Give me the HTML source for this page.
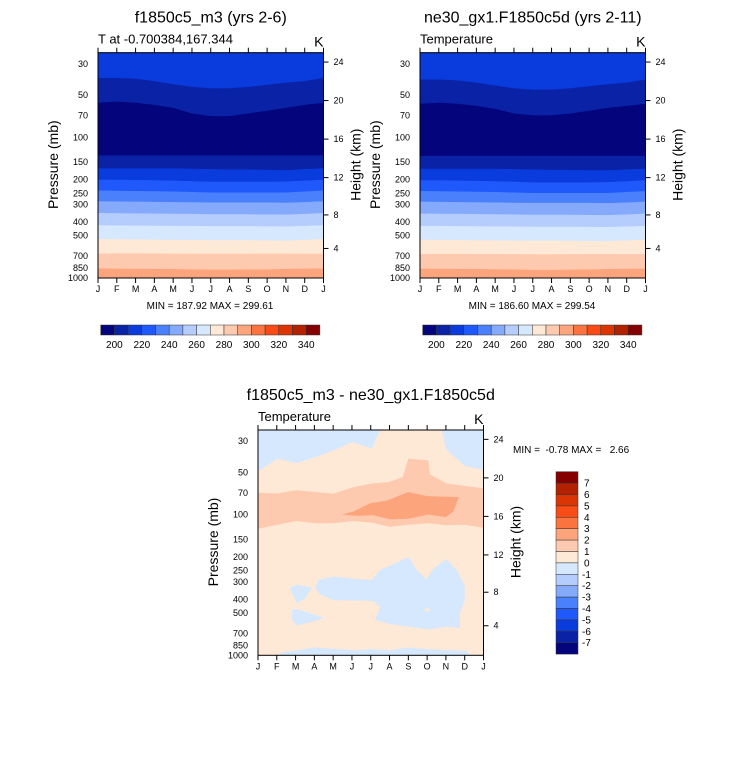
<!DOCTYPE html>
<html><head><meta charset="utf-8">
<style>
html,body{margin:0;padding:0;background:#fff;}
svg{display:block;font-family:"Liberation Sans",sans-serif;}
text{white-space:pre;}
</style></head>
<body>
<svg id="root" width="733" height="766" viewBox="0 0 733 766" xmlns="http://www.w3.org/2000/svg"></svg>
<script>
// ---------- data ----------
const monthLabels = ["J","F","M","A","M","J","J","A","S","O","N","D","J"];
const pressureTicks = [30,50,70,100,150,200,250,300,400,500,700,850,1000];
const heightTicks = [4,8,12,16,20,24];
const levelColors = ["#04047c","#0a23a6","#0a3bdc","#2059fb","#4a80fb","#86aafb","#b5cdfd","#d6e8fd","#fee8d6","#fdcab0","#fca57c","#fb7440","#f84b16","#dc3505","#b22100","#850000"];
const cbLabels = [200,220,240,260,280,300,320,340];
const diffCbLabels = [7,6,5,4,3,2,1,0,-1,-2,-3,-4,-5,-6,-7];
const diffColors = ["#850000","#b22100","#dc3505","#f84b16","#fb7440","#fca57c","#fdcab0","#fee8d6","#d6e8fd","#b5cdfd","#86aafb","#4a80fb","#2059fb","#0a3bdc","#0a23a6","#04047c"];

const m1Bounds = [
 [38,38,38.5,40,42,44,45,45,44,42.5,41,40,38],
 [57,56,57,59,62,68,71,71,68,65,62,59,57],
 [135,135,135,135,135,135,135,135,135,135,135,135,135],
 [167,167,167,167,167,168,169,170,170,171,172,169,167],
 [201,201,202,203,204,206,208,208,208,208,207,204,201],
 [240,241,242,243,244,246,248,248,248,248,248,244,240],
 [286,287,288,289,290,291,292,292,292,292,293,290,286],
 [347,348,349,350,351,352,354,354,354,355,356,352,347],
 [424,425,426,427,428,429,430,430,430,431,432,428,424],
 [531,533,535,537,538,539,540,540,541,543,545,538,531],
 [675,672,672,673,674,675,676,676,675,674,674,675,675],
 [860,862,864,866,868,872,877,877,875,872,866,862,860]];
const m1Bands = [2,1,0,1,2,3,4,5,6,7,8,9,10];
const m2Bounds = [
 [39,39,39.5,41,43,45,46,46,45,43.5,42,41,39],
 [58,57,58,60,63,68,70,70,68,65,62,60,58],
 [136,136,136,136,136,136,136,136,136,136,136,136,136],
 [168,168,168,168,168,169,170,171,171,172,172,170,168],
 [203,203,204,205,206,208,210,210,210,210,209,206,203],
 [242,243,244,245,246,248,250,250,250,250,250,246,242],
 [288,289,290,291,292,293,294,294,294,294,295,292,288],
 [350,351,352,353,354,355,357,357,357,358,359,355,350],
 [428,429,430,431,432,433,434,434,434,435,436,432,428],
 [536,538,540,542,543,544,545,545,546,548,550,543,536],
 [680,677,677,678,679,680,681,681,680,679,679,680,680],
 [862,864,866,868,870,874,879,879,877,874,868,864,862]];
const m2Bands = [2,1,0,1,2,3,4,5,6,7,8,9,10];

const diffBlueTopLeft = [[0,25],[6.5,25],[6.05,34],[5.04,30.5],[4.0,35],[3.05,39],[2.04,43],[1.04,40],[0,49]];
const diffBlueTopRight = [[9.77,25],[12,25],[12,48],[11,45],[10,34]];
const diffOrangeUpper = [[0,70],[1.04,70.5],[2.04,67],[3.05,69],[4.0,71],[5.04,64],[6.05,60],[7.0,58.5],[7.7,54],[8.0,40],[9.06,41],[9.15,51.6],[10.03,60],[11.1,62.7],[12,65]];
const diffOrangeLower = [[12,124],[11.0,118],[10.03,119],[9.06,115],[8.0,118],[7.03,122],[6.05,114],[5.04,111],[4.0,115],[3.05,115],[2.04,111],[1.04,118],[0,126]];
const diffOrange2 = [[4.46,100],[5.08,95],[5.96,83],[6.85,79.5],[8.0,69],[8.97,73.8],[10.69,75],[10.39,95],[10.0,104],[9.06,100],[8.0,107],[7.03,108],[6.14,101],[5.26,102]];
const diffBlueMid = [[3.22,290],[4.02,275],[5.08,285],[6.05,292],[6.5,247],[7.2,225],[8.0,200],[8.44,247],[8.97,288],[9.33,243],[10.03,207],[10.57,247],[11.0,320],[11.0,410],[10.74,500],[10.74,640],[10.03,625],[9.06,655],[8.0,625],[7.03,600],[6.23,560],[6.5,455],[6.14,410],[4.02,405],[3.3,370],[3.04,330]];
const diffBlueSmall1 = [[1.68,330],[2.07,315],[2.87,330],[2.51,395],[2.07,425]];
const diffBlueSmall2 = [[1.8,475],[2.07,470],[3.49,540],[2.96,575],[2.07,615],[1.8,560]];
const diffHole = [[8.85,470],[9.1,460],[9.2,480],[8.95,490]];
const diffBlueBottom = [[1.19,960],[3.04,880],[5.08,920],[6.05,905],[7.03,920],[8.0,880],[9.06,905],[11.1,930],[11.24,985],[11.1,1000],[1.19,1000]];

// ---------- helpers ----------
const NS="http://www.w3.org/2000/svg";
const root=document.getElementById('root');
function mk(tag,attrs,parent){const e=document.createElementNS(NS,tag);for(const k in attrs)e.setAttribute(k,attrs[k]);(parent||root).appendChild(e);return e;}
function txt(s,attrs,parent){const e=mk('text',attrs,parent);e.textContent=s;return e;}
function hToP(h){const m=h*1000;if(m<=11000)return 1013.25*Math.pow(1-2.25577e-5*m,5.25588);return 226.32*Math.exp(-(m-11000)/6341.6);}

function makePanel(ox,oy,opts){
  const W=225.5,H=225.3,top=oy,left=ox;
  const yTop=25.0;
  const sy=p=>top+(Math.log10(p)-Math.log10(yTop))*(H/(3-Math.log10(yTop)));
  const sx=m=>left+m*W/12;
  const g=mk('g',{});
  
  
  opts.draw(g,sx,sy,W,H);
  const fr=mk('rect',{x:left,y:top,width:W,height:H,fill:'none',stroke:'#000','stroke-width':1},g);
  
  monthLabels.forEach((l,i)=>{
    const x=sx(i);
    mk('line',{x1:x,y1:top,x2:x,y2:top-5,stroke:'#000','stroke-width':1},g);
    mk('line',{x1:x,y1:top+H,x2:x,y2:top+H+5,stroke:'#000','stroke-width':1},g);
    const t=txt(l,{x:x,y:top+H+14,'font-size':9,'text-anchor':'middle'},g);
    
  });
  pressureTicks.forEach(p=>{
    const y=sy(p);
    const t=txt(String(p),{x:left-10,y:y+3,'font-size':9,'text-anchor':'end'},g);
    
  });
  heightTicks.forEach(h=>{
    const y=sy(hToP(h));
    mk('line',{x1:left+W,y1:y,x2:left+W+5,y2:y,stroke:'#000','stroke-width':1},g);
    const t=txt(String(h),{x:left+W+10,y:y+3,'font-size':9},g);
    
  });
  const pl=txt('Pressure (mb)',{x:0,y:0,'font-size':14,'text-anchor':'middle',transform:`translate(${left-40},${top+112}) rotate(-90)`},g);
  
  const hl=txt('Height (km)',{x:0,y:0,'font-size':14,'text-anchor':'middle',transform:`translate(${left+W+37},${top+112}) rotate(-90)`},g);
  
  const tt=txt(opts.title,{x:left+W/2,y:top-30,'font-size':16,'text-anchor':'middle'},g);
  
  const st=txt(opts.sub,{x:left,y:top-9,'font-size':13},g);
  
  const kt=txt('K',{x:left+W,y:top-6,'font-size':14,'text-anchor':'end'},g);
  
  return {sx,sy};
}

function drawBands(bounds,bands){
  return function(g,sx,sy,W,H){
    const topArr=monthLabels.map(()=>25), botArr=monthLabels.map(()=>1000);
    const all=[topArr,...bounds,botArr];
    for(let b=0;b<bands.length;b++){
      const up=all[b],dn=all[b+1];
      let pts=[];
      up.forEach((p,i)=>pts.push(sx(i)+','+sy(p)));
      for(let i=dn.length-1;i>=0;i--)pts.push(sx(i)+','+sy(dn[i]));
      const e=mk('polygon',{points:pts.join(' '),fill:levelColors[bands[b]],stroke:levelColors[bands[b]],'stroke-width':0.6},g);
      
      
    }
  };
}

function poly(g,sx,sy,arr,fill,name){
  const e=mk('polygon',{points:arr.map(d=>sx(d[0])+','+sy(d[1])).join(' '),fill:fill},g);
  
  
}

makePanel(98,52.7,{name:'panel-model1',title:'f1850c5_m3 (yrs 2-6)',sub:'T at -0.700384,167.344',draw:drawBands(m1Bounds,m1Bands)});
makePanel(420,52.7,{name:'panel-model2',title:'ne30_gx1.F1850c5d (yrs 2-11)',sub:'Temperature',draw:drawBands(m2Bounds,m2Bands)});
makePanel(258,430,{name:'panel-difference',title:'f1850c5_m3 - ne30_gx1.F1850c5d',sub:'Temperature',draw:function(g,sx,sy,W,H){
  const bg=mk('rect',{x:sx(0),y:sy(25),width:W,height:H,fill:diffColors[7]},g);
  
  poly(g,sx,sy,diffBlueTopLeft,diffColors[8],'diff-region-neg');
  poly(g,sx,sy,diffBlueTopRight,diffColors[8],'diff-region-neg');
  poly(g,sx,sy,diffOrangeUpper.concat(diffOrangeLower),diffColors[6],'diff-region-1to2');
  poly(g,sx,sy,diffOrange2,diffColors[5],'diff-region-2to3');
  poly(g,sx,sy,diffBlueMid,diffColors[8],'diff-region-neg');
  poly(g,sx,sy,diffBlueSmall1,diffColors[8],'diff-region-neg');
  poly(g,sx,sy,diffBlueSmall2,diffColors[8],'diff-region-neg');
  poly(g,sx,sy,diffHole,diffColors[7],'diff-region-pos');
  poly(g,sx,sy,diffBlueBottom,diffColors[8],'diff-region-neg');
}});

const mm1=txt('MIN = 187.92 MAX = 299.61',{x:210,y:309,'font-size':10,'text-anchor':'middle'});

const mm2=txt('MIN = 186.60 MAX = 299.54',{x:532,y:309,'font-size':10,'text-anchor':'middle'});

const mm3=txt('MIN =  -0.78 MAX =   2.66',{x:513,y:453,'font-size':10});


function hbar(x0,name){
  const g=mk('g',{});
  
  
  const bw=13.7,y0=325,h=10;
  levelColors.forEach((c,i)=>{
    const r=mk('rect',{x:x0+i*bw,y:y0,width:bw,height:h,fill:c,stroke:'#333','stroke-width':0.5},g);
    
    
  });
  cbLabels.forEach((v,i)=>{
    const t=txt(String(v),{x:x0+(1+2*i)*bw,y:y0+h+13,'font-size':10,'text-anchor':'middle'},g);
    
    
  });
}
hbar(100.7,'colorbar-model1');
hbar(422.7,'colorbar-model2');

(function(){
  const g=mk('g',{});
  
  
  const x0=556,y0=471.7,bh=11.4,w=22;
  diffColors.forEach((c,i)=>{
    const r=mk('rect',{x:x0,y:y0+i*bh,width:w,height:bh,fill:c,stroke:'#333','stroke-width':0.5},g);
    
    
  });
  diffCbLabels.forEach((v,i)=>{
    const t=txt(String(v),{x:x0+w+(v<0?4:6),y:y0+(i+1)*bh+3.5,'font-size':10},g);
    
    
  });
})();
</script>
</body></html>
